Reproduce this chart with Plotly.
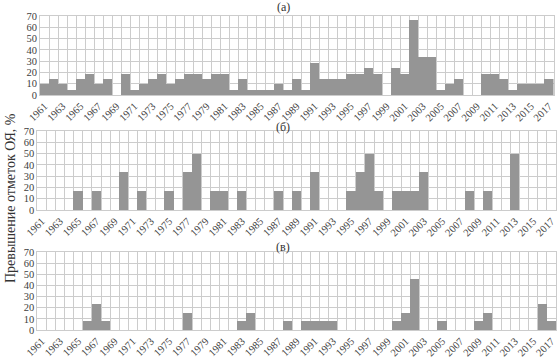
import plotly.graph_objects as go

years = list(range(1961, 2018))
tick_years = list(range(1961, 2018, 2))

series_a = [9.5, 14.3, 9.5, 4.8, 14.3, 19.0, 9.5, 14.3, 0, 19.0,
            4.8, 9.5, 14.3, 19.0, 9.5, 14.3, 19.0, 19.0, 14.3, 19.0,
            19.0, 4.8, 14.3, 4.8, 4.8, 4.8, 9.5, 4.8, 14.3, 4.8,
            28.6, 14.3, 14.3, 14.3, 19.0, 19.0, 23.8, 19.0, 0, 23.8,
            19.0, 66.7, 33.3, 33.3, 4.8, 9.5, 14.3, 0, 0, 19.0,
            19.0, 14.3, 4.8, 9.5, 9.5, 9.5, 14.3]
series_b = [0, 0, 0, 0, 16.7, 0, 16.7, 0, 0, 33.3,
            0, 16.7, 0, 0, 16.7, 0, 33.3, 50, 0, 16.7,
            16.7, 0, 16.7, 0, 0, 0, 16.7, 0, 16.7, 0,
            33.3, 0, 0, 0, 16.7, 33.3, 50, 16.7, 0, 16.7,
            16.7, 16.7, 33.3, 0, 0, 0, 0, 16.7, 0, 16.7,
            0, 0, 50, 0, 0, 0, 0]
series_c = [0, 0, 0, 0, 0, 7.7, 23.1, 7.7, 0, 0,
            0, 0, 0, 0, 0, 0, 15.4, 0, 0, 0,
            0, 0, 7.7, 15.4, 0, 0, 0, 7.7, 0, 7.7,
            7.7, 7.7, 7.7, 0, 0, 0, 0, 0, 0, 7.7,
            15.4, 46.2, 0, 0, 7.7, 0, 0, 0, 7.7, 15.4,
            0, 0, 0, 0, 0, 23.1, 7.7]
panel_labels = ["(а)", "(б)", "(в)"]
y_title = "Превышение отметок ОЯ, %"

W, H = 559, 359
ML, MR = 37, 3
plot_w = W - ML - MR

def xd(px0, px1):
    return [(px0 - ML) / plot_w, (px1 - ML) / plot_w]

def yd(top, bot):
    return [1 - bot / H, 1 - top / H]

x_domains = [xd(40, 553.5), xd(37.3, 556), xd(37.3, 556)]
y_domains = [yd(16, 95), yd(131, 210), yd(252, 330)]

bar_color = "#959595"
grid_color = "#cccccc"
font_family = "Liberation Serif"

fig = go.Figure()
for i, s in enumerate([series_a, series_b, series_c]):
    n = "" if i == 0 else str(i + 1)
    fig.add_trace(go.Bar(x=years, y=s, marker=dict(color=bar_color, line=dict(width=0)),
                         xaxis="x" + n, yaxis="y" + n, showlegend=False))
    fig.layout["xaxis" + n] = dict(
        domain=x_domains[i], anchor="y" + n, range=[1960.5, 2017.5],
        tickmode="array", tickvals=tick_years, ticktext=[str(t) for t in tick_years],
        tickangle=-45, showgrid=False, zeroline=False, automargin=False,
        tickfont=dict(family=font_family, size=10.5, color="#404040"),
        showline=True, linecolor=grid_color, mirror=True, ticks="",
        minor=dict(tickmode="linear", tick0=1960.5, dtick=1, showgrid=True,
                   gridcolor=grid_color, gridwidth=1, ticks=""),
    )
    fig.layout["yaxis" + n] = dict(
        domain=y_domains[i], anchor="x" + n, range=[0, 70], dtick=10,
        showgrid=True, gridcolor=grid_color, zeroline=False, automargin=False,
        showline=True, linecolor=grid_color, mirror=True, ticks="",
        tickfont=dict(family=font_family, size=10.5, color="#404040"),
    )

ann = []
for i, lab in enumerate(panel_labels):
    ypx = [7, 127, 247][i]
    ann.append(dict(text=lab, x=(283 - ML) / plot_w, y=1 - ypx / H, xref="paper", yref="paper",
                    showarrow=False, font=dict(family=font_family, size=12, color="#333333"),
                    xanchor="center", yanchor="middle"))
ann.append(dict(text=y_title, x=(10 - ML) / plot_w, y=1 - 198 / H, xref="paper", yref="paper",
                showarrow=False, textangle=-90, font=dict(family=font_family, size=14, color="#333333"),
                xanchor="center", yanchor="middle"))

fig.update_layout(
    width=W, height=H, margin=dict(l=ML, r=MR, t=0, b=0, pad=0, autoexpand=False),
    paper_bgcolor="white", plot_bgcolor="white",
    bargap=0, annotations=ann,
    font=dict(family=font_family),
)

fig.write_html("out.html", config={"displayModeBar": False},
               post_script="document.body.style.margin='0';document.body.style.overflow='hidden';")
